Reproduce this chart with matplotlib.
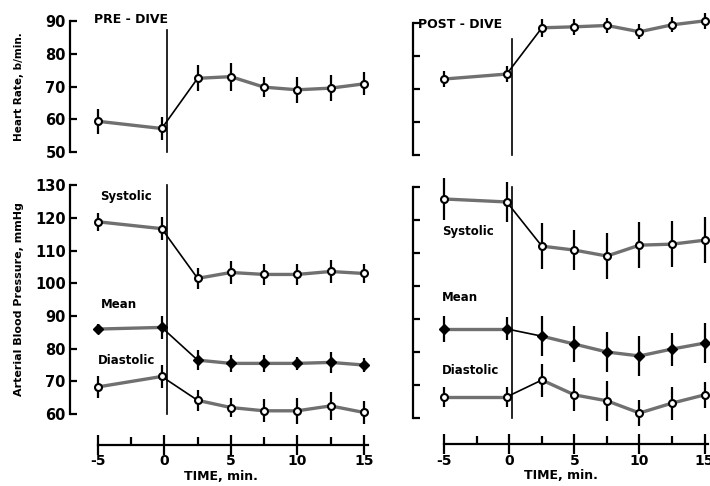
import numpy as np
import matplotlib
matplotlib.use("Agg")
import matplotlib.pyplot as plt
from matplotlib.ticker import MultipleLocator

# Sample times (min), relative to the dive
time = [-5, -0.2, 2.5, 5, 7.5, 10, 12.5, 15]

# Heart rate, b/min
hr_pre = [59.4, 57.2, 72.5, 73.0, 69.8, 69.0, 69.5, 70.8]
hr_pre_err = [3.8, 3.5, 4.0, 4.3, 3.0, 4.0, 4.0, 3.5]
hr_post = [73.0, 74.5, 88.5, 88.8, 89.2, 87.3, 89.4, 90.6]
hr_post_err = [2.5, 2.3, 2.8, 2.5, 2.3, 2.3, 2.3, 2.5]

# Arterial blood pressure, mmHg
sys_pre = [118.8, 116.7, 101.5, 103.3, 102.7, 102.7, 103.6, 103.0]
sys_pre_err = [2.8, 3.5, 3.3, 3.5, 3.3, 3.3, 3.5, 3.0]
mean_pre = [86.0, 86.5, 76.5, 75.5, 75.5, 75.5, 75.8, 75.0]
mean_pre_err = [1.5, 3.5, 3.0, 2.5, 2.5, 2.0, 3.3, 2.0]
dia_pre = [68.3, 71.5, 64.2, 62.0, 61.0, 61.0, 62.5, 60.5]
dia_pre_err = [3.3, 3.5, 3.3, 3.0, 3.5, 4.0, 4.3, 3.5]

sys_post = [126.4, 125.5, 112.1, 110.9, 109.1, 112.4, 112.7, 113.9]
sys_post_err = [6.5, 6.0, 7.0, 6.0, 7.0, 7.0, 7.0, 7.0]
mean_post = [87.0, 87.0, 84.8, 82.4, 80.0, 78.8, 80.9, 82.7]
mean_post_err = [4.0, 3.5, 6.0, 5.5, 6.0, 6.0, 5.0, 6.0]
dia_post = [66.4, 66.4, 71.5, 67.0, 65.2, 61.5, 64.5, 67.0]
dia_post_err = [3.0, 3.0, 5.0, 5.0, 6.0, 4.0, 5.0, 4.0]

dive_t = 0.2
bold = dict(fontweight="bold", family="DejaVu Sans")


def draw_series(ax, y, err, filled=False):
    # grey trace, with a thin black segment across the dive
    t = np.array(time)
    y = np.array(y)
    ax.plot(t[:2], y[:2], color="#707070", lw=2.4, zorder=2)
    ax.plot(t[1:3], y[1:3], color="black", lw=1.2, zorder=2)
    ax.plot(t[2:], y[2:], color="#707070", lw=2.4, zorder=2)
    ax.errorbar(t, y, yerr=err, fmt="none", ecolor="black", elinewidth=1.6,
                capsize=0, zorder=3)
    if filled:
        ax.plot(t, y, "D", ms=5, mfc="black", mec="black", zorder=4)
    else:
        ax.plot(t, y, "o", ms=5, mfc="white", mec="black", mew=1.5, zorder=4)


def style_axis(ax, ylo, yhi, labels):
    for s in ["top", "right", "bottom"]:
        ax.spines[s].set_visible(False)
    ax.spines["left"].set_linewidth(1.6)
    ax.set_ylim(ylo, yhi)
    ax.yaxis.set_major_locator(MultipleLocator(10))
    ax.tick_params(axis="y", direction="in", length=5, width=1.6,
                   labelleft=labels, labelsize=10.5, pad=3)
    for lab in ax.get_yticklabels():
        lab.set_fontweight("bold")
    ax.set_xticks([])


def style_time_axis(ax, offset):
    ax.spines["bottom"].set_visible(True)
    ax.spines["bottom"].set_position(("outward", offset))
    ax.spines["bottom"].set_linewidth(1.6)
    ax.spines["bottom"].set_bounds(-5, 15.3)
    ax.set_xticks([-5, 0, 5, 10, 15])
    ax.set_xticklabels(["-5", "0", "5", "10", "15"])
    ax.xaxis.set_minor_locator(MultipleLocator(2.5))
    ax.tick_params(axis="x", which="major", direction="inout", length=14,
                   width=1.6, labelsize=10, pad=0)
    ax.tick_params(axis="x", which="minor", direction="in", length=6,
                   width=1.6)
    for lab in ax.get_xticklabels():
        lab.set_fontweight("bold")
    ax.set_xlabel("TIME, min.", fontsize=9, labelpad=1, **bold)


fig = plt.figure(figsize=(7.1, 4.86), dpi=100)

ax_hr1 = fig.add_axes([0.0986, 0.687, 0.425, 0.270])
ax_hr2 = fig.add_axes([0.5817, 0.681, 0.418, 0.272])
ax_bp1 = fig.add_axes([0.0986, 0.148, 0.425, 0.471])
ax_bp2 = fig.add_axes([0.5817, 0.140, 0.418, 0.475])

for ax in (ax_hr1, ax_bp1):
    ax.set_xlim(-7.1, 15.6)
for ax in (ax_hr2, ax_bp2):
    ax.set_xlim(-7.4, 15.4)

style_axis(ax_hr1, 50, 90, True)
style_axis(ax_hr2, 50, 90, False)
style_axis(ax_bp1, 60, 130, True)
style_axis(ax_bp2, 60, 130, False)
style_time_axis(ax_bp1, 22)
style_time_axis(ax_bp2, 19)

for ax in (ax_hr1, ax_hr2, ax_bp1, ax_bp2):
    ax.set_facecolor("none")
    for sp in ax.spines.values():
        sp.set_clip_on(False)

# dive markers
ax_hr1.axvline(dive_t, ymin=0, ymax=0.93, color="black", lw=1.2, zorder=1)
ax_hr2.axvline(dive_t, ymin=0, ymax=0.88, color="black", lw=1.2, zorder=1)
ax_bp1.axvline(dive_t, color="black", lw=1.2, zorder=1)
ax_bp2.axvline(dive_t, color="black", lw=1.2, zorder=1)

draw_series(ax_hr1, hr_pre, hr_pre_err)
draw_series(ax_hr2, hr_post, hr_post_err)
draw_series(ax_bp1, sys_pre, sys_pre_err)
draw_series(ax_bp1, mean_pre, mean_pre_err, filled=True)
draw_series(ax_bp1, dia_pre, dia_pre_err)
draw_series(ax_bp2, sys_post, sys_post_err)
draw_series(ax_bp2, mean_post, mean_post_err, filled=True)
draw_series(ax_bp2, dia_post, dia_post_err)

for ax in (ax_hr1, ax_hr2, ax_bp1, ax_bp2):
    for art in ax.lines + ax.collections:
        art.set_clip_on(False)

# labels
ax_hr1.text(-5.3, 90.5, "PRE - DIVE", fontsize=9, va="center", ha="left", **bold)
ax_hr2.text(-7.0, 89.5, "POST - DIVE", fontsize=9, va="center", ha="left", **bold)

ax_bp1.text(-4.8, 126.5, "Systolic", fontsize=8.5, ha="left", va="center", **bold)
ax_bp1.text(-4.8, 93.5, "Mean", fontsize=8.5, ha="left", va="center", **bold)
ax_bp1.text(-5.0, 76.5, "Diastolic", fontsize=8.5, ha="left", va="center", **bold)
ax_bp2.text(-5.2, 116.5, "Systolic", fontsize=8.5, ha="left", va="center", **bold)
ax_bp2.text(-5.2, 96.5, "Mean", fontsize=8.5, ha="left", va="center", **bold)
ax_bp2.text(-5.2, 74.5, "Diastolic", fontsize=8.5, ha="left", va="center", **bold)

fig.text(0.027, 0.822, "Heart Rate, b/min.", rotation=90, fontsize=7.5,
         ha="center", va="center", **bold)
fig.text(0.027, 0.385, "Arterial Blood Pressure, mmHg", rotation=90,
         fontsize=8, ha="center", va="center", **bold)

fig.savefig("out.png", dpi=100, facecolor="white")
